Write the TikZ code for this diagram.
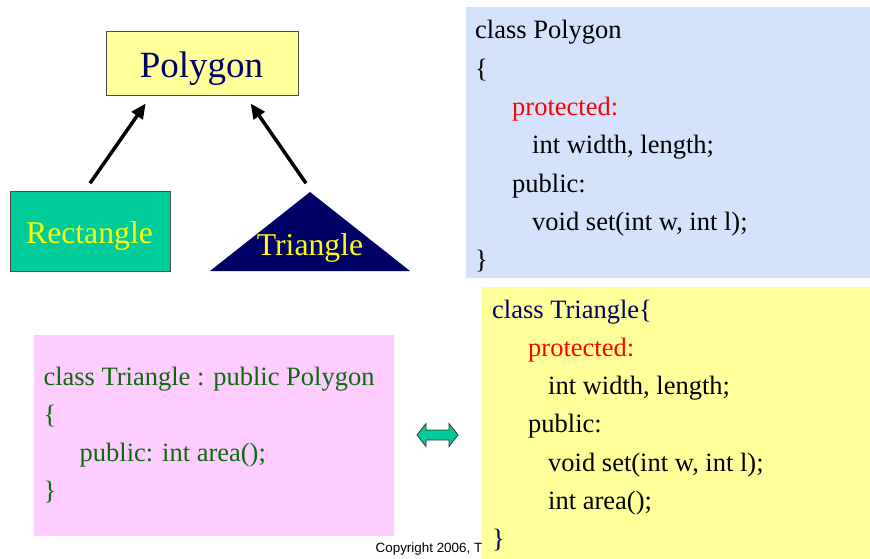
\documentclass[tikz,border=0pt]{standalone}
\usepackage{fontspec}
\setmainfont{Liberation Serif}
\newfontfamily\copyfont{Liberation Sans}
\usetikzlibrary{arrows.meta}
\definecolor{lyellow}{HTML}{FFFF99}
\definecolor{navyc}{HTML}{000066}
\definecolor{tealc}{HTML}{00CC99}
\definecolor{lblue}{HTML}{D5E2FB}
\definecolor{lpink}{HTML}{FFCCFF}
\definecolor{dgreen}{HTML}{0B6B0B}
\definecolor{yellowtxt}{HTML}{FFFF00}
\tikzset{
  codeline/.style={anchor=base west, inner sep=0pt, font=\fontsize{26.5}{30}\selectfont},
  inh/.style={line width=3.5pt, -{Triangle[length=15pt,width=13pt]}},
  shapetxt/.style={anchor=base, inner sep=0pt, text=yellowtxt, font=\fontsize{31.7}{34}\selectfont},
}
\begin{document}
\begin{tikzpicture}[x=1pt,y=-1pt]
\useasboundingbox (0,0) rectangle (870,559);

% --- hierarchy ---
\node[draw=black!70, line width=1pt, fill=lyellow, minimum width=192, minimum height=64, inner sep=0pt] (poly) at (202,63.3) {};
\node[anchor=base, inner sep=0pt, text=navyc, font=\fontsize{37}{40}\selectfont] (polyt) at (201.5,77.5) {Polygon};

\node[draw=black!70, line width=1pt, fill=tealc, minimum width=160, minimum height=80, inner sep=0pt] (rect) at (90,231) {};
\node[shapetxt] (rectt) at (89.5,243) {Rectangle};

\fill[navyc] (210,271) -- (310,192) -- (410,271) -- cycle;
\coordinate (tri) at (310,192);
\node[shapetxt] (trit) at (310,255.5) {Triangle};

\coordinate (a1s) at (90,183.3);
\coordinate (a1e) at (145.7,103.5);
\coordinate (a2s) at (306,183.3);
\coordinate (a2e) at (250.7,103.5);
\draw[inh] (a1s) -- (a1e);
\draw[inh] (a2s) -- (a2e);

% --- class Polygon box ---
\fill[lblue] (466,7) rectangle (870,278);
\node[codeline] (p1) at (475,39) {class Polygon};
\node[codeline] (p2) at (475,77.3) {\{};
\node[codeline, text=red] (p3) at (512,115.6) {protected:};
\node[codeline] (p4) at (532,153.9) {int width, length;};
\node[codeline] (p5) at (512,192.2) {public:};
\node[codeline] (p6) at (532,230.5) {void set(int w, int l);};
\node[codeline] (p7) at (475,268.8) {\}};

% --- copyright ---
\node[anchor=base west, inner sep=0pt, font=\copyfont\fontsize{13.4}{15}\selectfont] (copy) at (375.5,552.5) {Copyright 2006, T};

% --- pink box ---
\fill[lpink] (34,335) rectangle (394,535.5);
\node[codeline, text=dgreen] (k1) at (43.3,385) {class Triangle : public Polygon};
\node[codeline, text=dgreen] (k2) at (43.3,423.3) {\{};
\node[codeline, text=dgreen] (k3) at (79.5,461.6) {public: int area();};
\node[codeline, text=dgreen] (k4) at (43.3,499.9) {\}};

% --- double arrow ---
\filldraw[fill=tealc, draw=black!80, line width=0.8pt, line join=miter]
  (417,435) -- (426,423.5) -- (426,430) -- (449,430) -- (449,423.5) -- (458,435)
  -- (449,446.5) -- (449,440) -- (426,440) -- (426,446.5) -- cycle;

% --- yellow class Triangle box ---
\fill[lyellow] (482,287) rectangle (870,559);
\node[codeline, text=navyc] (t1) at (492,318) {class Triangle\{};
\node[codeline, text=red] (t2) at (528,356.3) {protected:};
\node[codeline] (t3) at (548,394.6) {int width, length;};
\node[codeline] (t4) at (528,432.9) {public:};
\node[codeline] (t5) at (548,471.2) {void set(int w, int l);};
\node[codeline] (t6) at (548,509.5) {int area();};
\node[codeline, text=navyc] (t7) at (492,547.8) {\}};
\end{tikzpicture}
\end{document}
